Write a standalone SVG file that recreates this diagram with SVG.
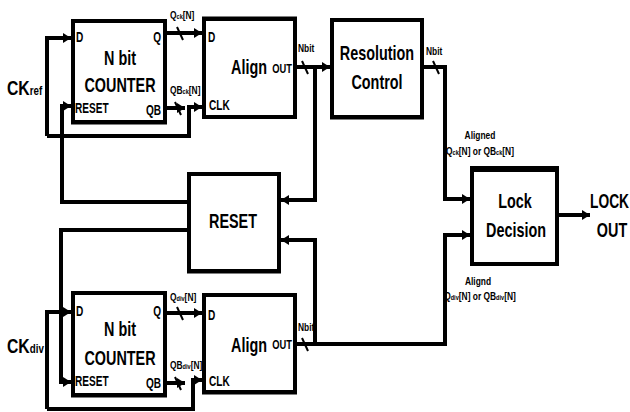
<svg xmlns="http://www.w3.org/2000/svg" width="630" height="412" viewBox="0 0 630 412">
<style>
.box{fill:#fff;stroke:#000;stroke-width:4}
.w{fill:none;stroke:#000;stroke-width:4;stroke-linejoin:miter}
.sl{fill:none;stroke:#000;stroke-width:2}
text{font-family:"Liberation Sans",Arial,sans-serif;font-weight:bold;fill:#000}
.big{font-size:20px;text-anchor:middle}
.sm{font-size:14px}
.o{font-size:13px;text-anchor:end}
.e{text-anchor:end}
.tn{font-size:10.5px}
.sub{font-size:7px}
.ck{font-size:21px}
.cks{font-size:13px}
</style>
<defs>
<marker id="ah" markerUnits="userSpaceOnUse" markerWidth="9" markerHeight="10" refX="8" refY="5" orient="auto">
<path d="M0,0 L8,5 L0,10 z" fill="#000"/>
</marker>
</defs>
<rect width="630" height="412" fill="#fff"/>

<g id="connectors">
<path class="w" d="M47,136 V38 H71" marker-end="url(#ah)"/>
<path class="w" d="M47,136 H189 V107 H202" marker-end="url(#ah)"/>
<path class="w" d="M189,202 H62 V106 H71" marker-end="url(#ah)"/>
<path class="w" d="M167,33 H202" marker-end="url(#ah)"/>
<path class="w" d="M167,108 H185" marker-end="url(#ah)"/>
<line class="sl" x1="177" y1="27" x2="183" y2="40"/>
<line class="sl" x1="175" y1="102" x2="181" y2="115"/>
<path class="w" d="M296,67 H330" marker-end="url(#ah)"/>
<path class="w" d="M315,67 V200 H281" marker-end="url(#ah)"/>
<line class="sl" x1="302" y1="61" x2="308" y2="74"/>
<path class="w" d="M423,67 H445 V199 H470" marker-end="url(#ah)"/>
<line class="sl" x1="433" y1="61" x2="439" y2="74"/>
<path class="w" d="M296,344 H445 V235 H470" marker-end="url(#ah)"/>
<path class="w" d="M315,344 V240 H281" marker-end="url(#ah)"/>
<line class="sl" x1="302" y1="338" x2="308" y2="351"/>
<path class="w" d="M558,215 H590" marker-end="url(#ah)"/>
<path class="w" d="M189,230 H61 V382 H71" marker-end="url(#ah)"/>
<path class="w" d="M47,409 V312 H71" marker-end="url(#ah)"/>
<path class="w" d="M47,409 H193 V380 H202" marker-end="url(#ah)"/>
<path class="w" d="M167,313 H202" marker-end="url(#ah)"/>
<path class="w" d="M167,383 H185" marker-end="url(#ah)"/>
<line class="sl" x1="177" y1="307" x2="183" y2="320"/>
<line class="sl" x1="175" y1="377" x2="181" y2="390"/>
</g>

<g id="counter-top">
<rect class="box" x="73" y="21" width="92" height="101"/>
<line x1="71" y1="123" x2="167" y2="123" stroke="#000" stroke-width="3"/>
<text class="sm" transform="translate(76,42) scale(.72,1)">D</text>
<text class="sm e" transform="translate(161,42) scale(.72,1)">Q</text>
<text class="big" transform="translate(120,65) scale(.72,1)">N bit</text>
<text class="big" transform="translate(120,92) scale(.72,1)">COUNTER</text>
<text class="sm" transform="translate(75,113) scale(.72,1)">RESET</text>
<text class="sm e" transform="translate(161,115) scale(.72,1)">QB</text>
</g>

<g id="align-top">
<rect class="box" x="204" y="19" width="91" height="98"/>
<line x1="202" y1="18" x2="297" y2="18" stroke="#000" stroke-width="3"/>
<text class="sm" transform="translate(208,42) scale(.72,1)">D</text>
<text class="big" transform="translate(249,74) scale(.72,1)">Align</text>
<text class="o" transform="translate(292,73) scale(.72,1)">OUT</text>
<text class="sm" transform="translate(209,110) scale(.72,1)">CLK</text>
</g>

<g id="resolution">
<rect class="box" x="332" y="20" width="90" height="97"/>
<line x1="330" y1="118" x2="424" y2="118" stroke="#000" stroke-width="3"/>
<text class="big" transform="translate(377,60) scale(.72,1)">Resolution</text>
<text class="big" transform="translate(377,89) scale(.72,1)">Control</text>
</g>

<g id="reset">
<rect class="box" x="189" y="174" width="90" height="97"/>
<line x1="187" y1="272" x2="281" y2="272" stroke="#000" stroke-width="3"/>
<text class="big" transform="translate(233,228) scale(.72,1)">RESET</text>
</g>

<g id="lock">
<rect class="box" x="472" y="170" width="85" height="94"/>
<line x1="470" y1="168" x2="559" y2="168" stroke="#000" stroke-width="4"/>
<text class="big" transform="translate(515,208) scale(.72,1)">Lock</text>
<text class="big" transform="translate(516,237) scale(.72,1)">Decision</text>
</g>

<g id="counter-bottom">
<rect class="box" x="73" y="293" width="92" height="102"/>
<line x1="71" y1="396" x2="167" y2="396" stroke="#000" stroke-width="3"/>
<text class="sm" transform="translate(76,316) scale(.72,1)">D</text>
<text class="sm e" transform="translate(161,316) scale(.72,1)">Q</text>
<text class="big" transform="translate(120,336) scale(.72,1)">N bit</text>
<text class="big" transform="translate(120,365) scale(.72,1)">COUNTER</text>
<text class="sm" transform="translate(75,386) scale(.72,1)">RESET</text>
<text class="sm e" transform="translate(161,388) scale(.72,1)">QB</text>
</g>

<g id="align-bottom">
<rect class="box" x="204" y="295" width="91" height="97"/>
<line x1="202" y1="393" x2="297" y2="393" stroke="#000" stroke-width="3"/>
<text class="sm" transform="translate(208,320) scale(.72,1)">D</text>
<text class="big" transform="translate(249,352) scale(.72,1)">Align</text>
<text class="o" transform="translate(292,349) scale(.72,1)">OUT</text>
<text class="sm" transform="translate(209,386) scale(.72,1)">CLK</text>
</g>

<g id="labels">
<text transform="translate(7,95) scale(.75,1)"><tspan class="ck">CK</tspan><tspan class="cks">ref</tspan></text>
<text transform="translate(7,353) scale(.75,1)"><tspan class="ck">CK</tspan><tspan class="cks">div</tspan></text>
<text class="tn" transform="translate(170,19) scale(.8,1)">Q<tspan class="sub">ck</tspan>[N]</text>
<text class="tn" transform="translate(170,94) scale(.8,1)">QB<tspan class="sub">ck</tspan>[N]</text>
<text class="tn" transform="translate(170,301) scale(.8,1)">Q<tspan class="sub">div</tspan>[N]</text>
<text class="tn" transform="translate(170,369) scale(.8,1)">QB<tspan class="sub">div</tspan>[N]</text>
<text class="tn" transform="translate(298,52) scale(.8,1)">Nbit</text>
<text class="tn" transform="translate(426,55) scale(.8,1)">Nbit</text>
<text class="tn" transform="translate(298,331) scale(.8,1)">Nbit</text>
<text class="tn" text-anchor="middle" transform="translate(480,139) scale(.8,1)">Aligned</text>
<text class="tn" text-anchor="middle" transform="translate(480,155) scale(.8,1)">Q<tspan class="sub">ck</tspan>[N] or QB<tspan class="sub">ck</tspan>[N]</text>
<text class="tn" text-anchor="middle" transform="translate(478,285) scale(.8,1)">Alignd</text>
<text class="tn" text-anchor="middle" transform="translate(480,300) scale(.8,1)">Q<tspan class="sub">div</tspan>[N] or QB<tspan class="sub">div</tspan>[N]</text>
<text style="font-size:20px" transform="translate(590,208) scale(.69,1)">LOCK</text>
<text class="big" transform="translate(612,237) scale(.72,1)">OUT</text>
</g>
</svg>
